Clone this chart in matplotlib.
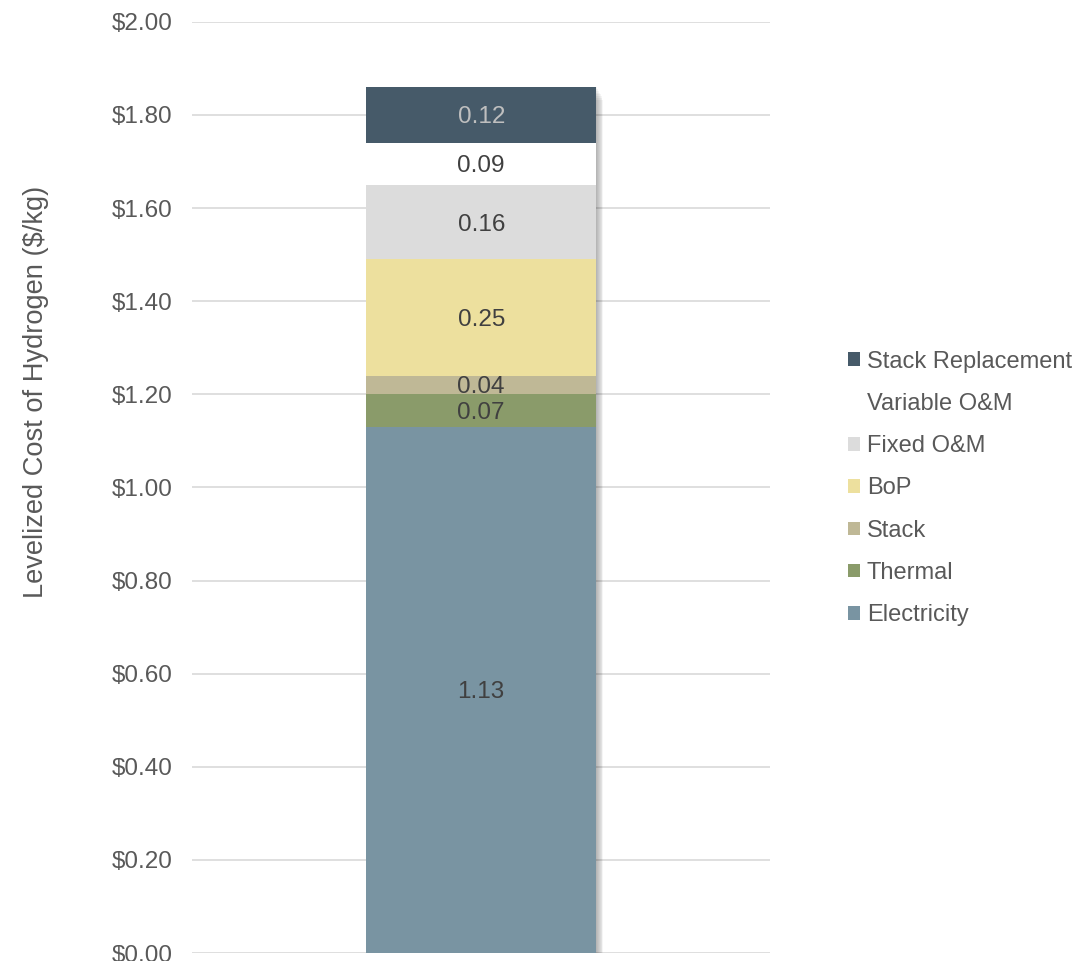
import numpy as np
import matplotlib.pyplot as plt
from matplotlib.patches import Patch

plt.rcParams['font.family'] = ['Liberation Sans', 'DejaVu Sans']

# cost components, bottom to top
components = ['Electricity', 'Thermal', 'Stack', 'BoP', 'Fixed O&M',
              'Variable O&M', 'Stack Replacement']
costs = [1.13, 0.07, 0.04, 0.25, 0.16, 0.09, 0.12]
colors = ['#7994A2', '#8A9B6A', '#BFB896', '#EDE09E', '#DCDCDC',
          '#FFFFFF', '#465A69']
label_colors = ['#404040'] * 6 + ['#BFBFBF']
yticks = np.arange(0, 2.01, 0.2)

fig = plt.figure(figsize=(10.79, 9.61), dpi=100)
ax = fig.add_axes([0.178, 0.0083, 0.536, 0.969])

width = 0.398
total = sum(costs)

# soft shadow on the right of the bar
for i in range(8):
    off = 0.0015 * (i + 1)
    ax.bar(off, total - 0.004 * i, width=width, bottom=0, color='#000000',
           alpha=0.04, zorder=2, linewidth=0)

bottom = 0.0
for name, val, col, lc in zip(components, costs, colors, label_colors):
    ax.bar(0, val, width=width, bottom=bottom, color=col, zorder=3,
           linewidth=0, label=name)
    ax.text(0, bottom + val / 2, f'{val:.2f}', ha='center',
            va='center_baseline', fontsize=17.5, color=lc, zorder=4)
    bottom += val

ax.set_xlim(-0.5, 0.5)
ax.set_ylim(0, 2.0)
ax.set_yticks(yticks)
ax.set_yticklabels([f'${v:.2f}' for v in yticks])
ax.set_xticks([])
ax.tick_params(axis='y', length=0, pad=14, labelsize=17.5, labelcolor='#595959')
ax.grid(axis='y', color='#D9D9D9', linewidth=1.2, zorder=0)
ax.set_axisbelow(True)
for s in ax.spines.values():
    s.set_visible(False)
ax.set_ylabel('Levelized Cost of Hydrogen ($/kg)', fontsize=19.6,
              color='#595959')
ax.yaxis.set_label_coords(-0.247, 0.603)

handles = [Patch(facecolor=c, edgecolor='none') for c in colors][::-1]
leg = fig.legend(handles, components[::-1], loc='center left',
                 bbox_to_anchor=(0.766, 0.4917), frameon=False, fontsize=17,
                 handlelength=0.5, handleheight=0.5, handletextpad=0.3,
                 labelspacing=0.86, labelcolor='#595959')

fig.savefig('out.png', dpi=100)
